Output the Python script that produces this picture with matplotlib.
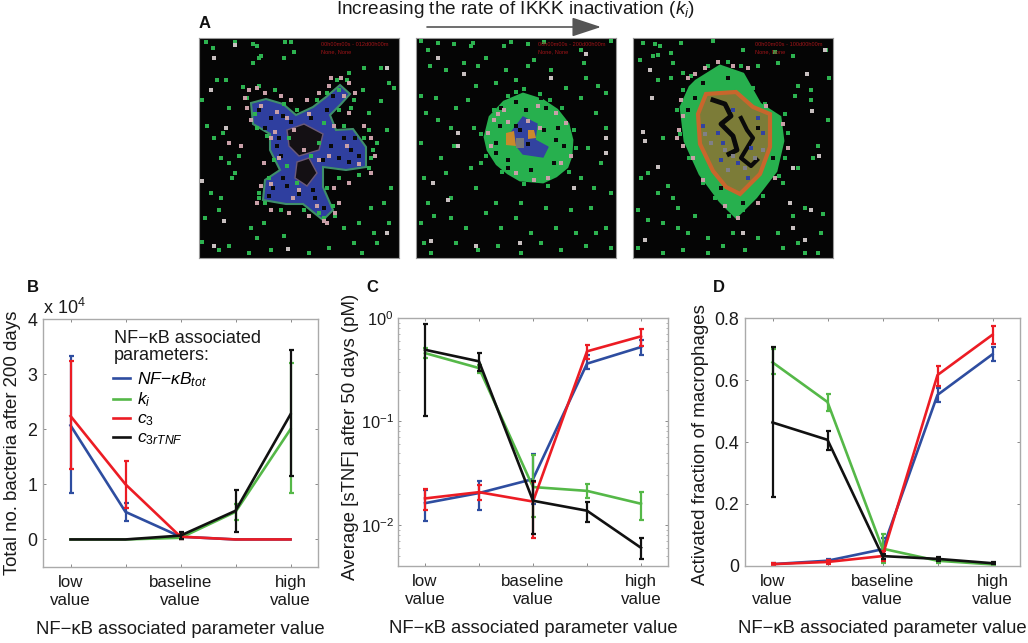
import matplotlib
matplotlib.use('Agg')
import matplotlib.pyplot as plt
from matplotlib.patches import Polygon, FancyArrowPatch
from matplotlib.lines import Line2D
from matplotlib.ticker import NullFormatter

plt.rcParams['font.family'] = ['Liberation Sans', 'DejaVu Sans']
plt.rcParams['mathtext.fontset'] = 'custom'
plt.rcParams['mathtext.rm'] = 'Liberation Sans'
plt.rcParams['mathtext.it'] = 'Liberation Sans:italic'

W, H = 1028, 643

x_pos = [1, 2, 3, 4, 5]
x_labels = ['low\nvalue', '', 'baseline\nvalue', '', 'high\nvalue']
series_colors = ['#2e4da0', '#55b848', '#ec1c24', '#111111']
legend_labels = [r'$NF\mathrm{-}\kappa B_{tot}$', r'$k_i$', r'$c_3$', r'$c_{3rTNF}$']

# panel B, x 10^4
b_blue = [2.07, 0.50, 0.05, 0.0, 0.0]
b_blue_lo = [0.85, 0.33, 0.0, 0.0, 0.0]
b_blue_hi = [3.33, 0.67, 0.10, 0.0, 0.0]
b_green = [0.0, 0.0, 0.03, 0.50, 2.00]
b_green_lo = [0.0, 0.0, 0.0, 0.35, 0.85]
b_green_hi = [0.0, 0.0, 0.08, 0.65, 3.20]
b_red = [2.24, 1.00, 0.05, 0.0, 0.0]
b_red_lo = [1.27, 0.57, 0.0, 0.0, 0.0]
b_red_hi = [3.24, 1.42, 0.10, 0.0, 0.0]
b_black = [0.0, 0.0, 0.07, 0.52, 2.27]
b_black_lo = [0.0, 0.0, 0.0, 0.14, 1.15]
b_black_hi = [0.0, 0.0, 0.14, 0.90, 3.43]

# panel C
c_blue = [0.0162, 0.0203, 0.0277, 0.362, 0.524]
c_blue_lo = [0.0110, 0.0138, 0.016, 0.32, 0.44]
c_blue_hi = [0.0215, 0.0263, 0.0486, 0.44, 0.617]
c_green = [0.458, 0.328, 0.0232, 0.0213, 0.0160]
c_green_lo = [0.41, 0.295, 0.012, 0.0181, 0.0112]
c_green_hi = [0.51, 0.355, 0.047, 0.0248, 0.0209]
c_red = [0.0180, 0.0207, 0.0168, 0.476, 0.665]
c_red_lo = [0.0138, 0.0172, 0.0075, 0.40, 0.54]
c_red_hi = [0.0223, 0.0243, 0.026, 0.544, 0.788]
c_black = [0.493, 0.381, 0.0171, 0.0137, 0.0060]
c_black_lo = [0.113, 0.305, 0.0082, 0.0106, 0.0047]
c_black_hi = [0.88, 0.458, 0.0263, 0.0166, 0.0074]

# panel D
d_blue = [0.006, 0.017, 0.054, 0.552, 0.683]
d_blue_lo = [0.003, 0.012, 0.02, 0.53, 0.66]
d_blue_hi = [0.009, 0.022, 0.09, 0.575, 0.705]
d_green = [0.657, 0.529, 0.056, 0.017, 0.005]
d_green_lo = [0.62, 0.50, 0.01, 0.010, 0.003]
d_green_hi = [0.70, 0.555, 0.103, 0.024, 0.007]
d_red = [0.006, 0.013, 0.032, 0.616, 0.746]
d_red_lo = [0.003, 0.008, 0.015, 0.58, 0.715]
d_red_hi = [0.009, 0.018, 0.05, 0.645, 0.775]
d_black = [0.463, 0.407, 0.032, 0.023, 0.009]
d_black_lo = [0.222, 0.375, 0.024, 0.016, 0.005]
d_black_hi = [0.705, 0.436, 0.04, 0.030, 0.013]

# panel A in pixels inside each 200x220 image
left_green = [(7, 4), (36, 4), (54, 6), (58, 8), (86, 4), (92, 4), (14, 10), (3, 62), (18, 42), (27, 42),
              (44, 49), (60, 20), (62, 18), (54, 25), (95, 14), (85, 20), (150, 35), (165, 30), (182, 30),
              (190, 45), (164, 52), (195, 50), (8, 88), (30, 70), (24, 95), (15, 100), (22, 120), (30, 125),
              (40, 118), (33, 140), (36, 135), (12, 155), (22, 160), (6, 180), (20, 172), (52, 190), (65, 185),
              (3, 204), (20, 212), (30, 208), (58, 200), (85, 198), (145, 190), (160, 185), (175, 195),
              (190, 185), (185, 165), (172, 170), (192, 150), (178, 105), (188, 92), (170, 75), (182, 63),
              (130, 210), (155, 205), (110, 215), (72, 212), (50, 215), (178, 205), (163, 215)]
left_grey = [(36, 7), (15, 20), (12, 52), (27, 90), (3, 143), (25, 183), (15, 208), (89, 211), (188, 195), (188, 30)]
left_blue = [(52, 65), (67, 61), (84, 66), (97, 77), (114, 69), (127, 59), (141, 47), (151, 56), (142, 66), (131, 77),
             (137, 92), (154, 91), (167, 109), (167, 129), (147, 132), (124, 129), (124, 149), (134, 172), (124, 182),
             (104, 166), (87, 166), (64, 162), (66, 142), (81, 132), (71, 112), (71, 96), (54, 86)]
left_holes = [[(88, 92), (105, 86), (124, 96), (120, 112), (100, 118), (90, 108)],
              [(98, 124), (110, 120), (118, 135), (108, 148), (96, 140)]]
left_speck = [(60, 72), (72, 80), (84, 78), (66, 90), (92, 84), (80, 100), (112, 80), (128, 72), (134, 58), (145, 100),
              (152, 112), (140, 120), (160, 118), (132, 108), (82, 118), (74, 150), (88, 148), (100, 156), (116, 160),
              (125, 170), (84, 140), (70, 158), (114, 152), (156, 100), (150, 124), (124, 122), (78, 108), (96, 70)]
left_pink = [(50, 52), (58, 50), (48, 70), (52, 82), (66, 55), (82, 58), (92, 62), (108, 62), (120, 55), (130, 48),
             (142, 40), (150, 45), (156, 55), (150, 75), (135, 88), (165, 88), (172, 100), (176, 118), (172, 135),
             (150, 145), (135, 150), (136, 175), (125, 183), (110, 178), (90, 175), (72, 172), (58, 165), (62, 148),
             (65, 125), (72, 100), (95, 92), (105, 112), (120, 122), (100, 152), (80, 120), (42, 108), (30, 105),
             (62, 68), (78, 74), (110, 76), (145, 58), (148, 108), (160, 126), (130, 118), (72, 146), (94, 160),
             (118, 168), (76, 94), (88, 80), (46, 60), (132, 40), (128, 185), (140, 165)]
left_fringe = [(48, 60), (60, 48), (76, 52), (85, 66), (98, 72), (118, 62), (128, 55), (148, 42), (155, 62), (140, 72),
               (125, 85), (145, 88), (170, 92), (174, 112), (170, 130), (160, 137), (140, 140), (128, 150), (134, 168),
               (125, 180), (105, 172), (82, 172), (66, 165), (60, 155), (70, 140), (75, 122), (68, 98), (58, 90),
               (90, 100), (112, 118), (98, 145), (88, 128), (120, 105), (136, 178), (138, 42), (152, 70), (60, 160),
               (172, 120), (165, 100), (140, 52), (56, 76), (120, 175)]

mid_green = [(5, 3), (12, 12), (22, 5), (38, 6), (55, 8), (57, 5), (95, 4), (88, 8), (112, 6), (128, 4), (165, 12), (195, 3),
             (14, 28), (30, 32), (48, 25), (62, 28), (70, 20), (90, 32), (112, 28), (118, 22), (135, 32), (168, 25),
             (170, 40), (182, 48), (5, 58), (20, 60), (40, 70), (52, 62), (60, 48), (80, 45), (100, 42), (150, 50),
             (165, 60), (190, 55), (180, 75), (190, 90), (10, 75), (22, 82), (35, 90), (58, 90), (5, 105), (25, 120),
             (38, 108), (55, 130), (8, 140), (30, 135), (65, 125), (172, 110), (185, 125), (165, 140), (178, 150),
             (195, 155), (12, 165), (35, 160), (60, 150), (80, 165), (105, 165), (130, 170), (155, 172), (175, 170),
             (190, 190), (5, 185), (18, 178), (35, 180), (50, 190), (70, 175), (85, 190), (100, 180), (115, 195),
             (140, 190), (160, 195), (8, 205), (15, 215), (40, 205), (62, 212), (82, 208), (105, 215), (125, 205),
             (145, 212), (170, 208), (195, 210), (180, 195)]
mid_grey = [(22, 20), (48, 36), (42, 95), (42, 108), (17, 145), (32, 162), (15, 203), (60, 208), (104, 205), (158, 150),
            (190, 100), (190, 115), (135, 40), (170, 16)]
mid_blob = [(74, 79), (88, 64), (107, 56), (126, 62), (141, 72), (152, 86), (156, 102), (155, 118), (151, 129), (140, 138),
            (127, 144), (104, 142), (92, 135), (81, 126), (72, 112), (69, 99)]
mid_blue = [(107, 79), (121, 86), (119, 102), (132, 109), (127, 119), (107, 116), (99, 106), (94, 96)]
mid_orange = [(90, 95), (98, 93), (100, 108), (90, 107), (112, 92), (118, 92), (120, 100), (112, 101)]
mid_grey_core = [(100, 100), (108, 100), (108, 110), (100, 110)]
mid_speck = [(85, 70), (100, 64), (130, 70), (142, 90), (148, 108), (138, 125), (115, 132), (92, 122), (80, 105), (84, 88),
             (140, 102), (128, 92), (92, 130), (125, 60), (110, 72), (80, 115), (100, 88), (112, 106), (104, 92)]
mid_pink = [(78, 82), (82, 76), (88, 72), (72, 95), (75, 108), (100, 135), (118, 142), (132, 140), (145, 125), (155, 118),
            (150, 85), (140, 75), (122, 68), (112, 83), (124, 90), (92, 84)]
mid_edge = [(78, 72), (92, 58), (108, 51), (124, 56), (146, 70), (158, 92), (160, 110), (153, 134), (132, 148), (108, 146),
            (86, 134), (70, 118), (65, 96), (100, 54), (134, 62)]

right_green = [(10, 5), (22, 6), (27, 8), (48, 5), (80, 3), (110, 12), (142, 14), (160, 18), (193, 12), (7, 22), (20, 18),
               (25, 17), (38, 15), (40, 25), (25, 42), (38, 40), (50, 35), (145, 25), (125, 28), (165, 48), (162, 58),
               (178, 52), (178, 62), (196, 40), (195, 82), (30, 100), (8, 140), (15, 135), (35, 148), (25, 155),
               (40, 160), (45, 170), (5, 172), (15, 182), (30, 185), (45, 190), (55, 195), (62, 178), (75, 200),
               (90, 208), (100, 195), (112, 212), (125, 200), (145, 195), (160, 178), (172, 170), (190, 176), (188, 195),
               (165, 205), (150, 210), (172, 215), (185, 215), (5, 210), (30, 215), (50, 212), (75, 215), (180, 120),
               (165, 130), (150, 145), (185, 108)]
right_grey = [(192, 12), (17, 32), (19, 60), (174, 36), (179, 73), (10, 94), (12, 103), (25, 129), (160, 130), (157, 165),
              (178, 172), (160, 190), (110, 195), (12, 202), (172, 202), (186, 118)]
right_blob = [(63, 43), (87, 28), (110, 36), (127, 66), (147, 79), (150, 103), (143, 133), (123, 159), (103, 179), (87, 163),
              (67, 136), (52, 103), (48, 69), (57, 49)]
right_olive = [(73, 56), (103, 54), (120, 69), (137, 76), (137, 109), (127, 136), (107, 156), (93, 149), (80, 133), (67, 106),
               (65, 76)]
right_black_x = [80, 92, 98, 88, 100, 104, 96]
right_black_y = [62, 66, 78, 86, 98, 112, 116]
right_black2_x = [108, 114, 120, 108, 118, 124]
right_black2_y = [80, 92, 100, 120, 128, 122]
right_grey_core = [(78, 105), (92, 112), (100, 118), (122, 120), (130, 112), (95, 132), (112, 130), (72, 96)]
right_blue = [(70, 88), (85, 95), (90, 105), (105, 125), (115, 140), (100, 72), (125, 80), (88, 122), (118, 110), (130, 95)]
right_pink = [(55, 40), (62, 36), (48, 62), (50, 78), (46, 92), (50, 108), (60, 120), (70, 142), (92, 168), (105, 180),
              (125, 165), (142, 140), (155, 110), (150, 86), (115, 30), (100, 28), (85, 24), (72, 30), (133, 68), (44, 100)]
right_black_pts = [(62, 60), (55, 72), (70, 45), (95, 40), (125, 90), (140, 120), (110, 165), (88, 150)]
right_edge = [(58, 38), (75, 28), (95, 24), (108, 28), (120, 50), (132, 66), (152, 76), (155, 95), (152, 120), (146, 138),
              (130, 158), (110, 172), (96, 178), (82, 160), (70, 145), (56, 120), (47, 96), (44, 72), (50, 52)]


def add_axes_px(left, top, right, bottom):
    return fig.add_axes([left / W, 1 - bottom / H, (right - left) / W, (bottom - top) / H])


def draw_image(ax, green, grey, tstr):
    ax.set_facecolor('#050505')
    ax.set_xlim(0, 200)
    ax.set_ylim(220, 0)
    ax.set_xticks([])
    ax.set_yticks([])
    for s in ax.spines.values():
        s.set_color('#999999')
        s.set_linewidth(0.8)
    ax.scatter(*zip(*green), s=6, marker='s', c='#2db350', lw=0, zorder=5)
    ax.scatter(*zip(*grey), s=6, marker='s', c='#c8c0c0', lw=0, zorder=5)
    ax.text(122, 6, tstr, color='#a01418', fontsize=4.1, va='center', zorder=6)
    ax.text(122, 14, 'None, None', color='#a01418', fontsize=4.1, va='center', zorder=6)


def draw_panel(ax, series, ylabel, label_x, label_y):
    for (y, lo, hi), col in zip(series, series_colors):
        ax.plot(x_pos, y, color=col, lw=1.9)
        # flat points have no visible bar in the original
        keep = [i for i in range(len(y)) if hi[i] > lo[i]]
        ax.errorbar([x_pos[i] for i in keep], [y[i] for i in keep],
                    yerr=[[y[i] - lo[i] for i in keep], [hi[i] - y[i] for i in keep]],
                    fmt='none', ecolor=col, elinewidth=1.6, capsize=1.8, capthick=1.6)
    ax.set_xlim(0.5, 5.5)
    ax.set_xticks(x_pos)
    ax.set_xticklabels(x_labels, linespacing=1.25)
    ax.tick_params(direction='in', length=2.5, width=0.6, color='#777777', top=True, right=True,
                   labelsize=12.8, pad=4, labelcolor='#1a1a1a')
    ax.tick_params(axis='x', labelsize=12.2, pad=6)
    for s in ax.spines.values():
        s.set_color('#aaaaaa')
        s.set_linewidth(1.0)
    ax.set_ylabel(ylabel, fontsize=13.4, color='#1a1a1a')
    ax.yaxis.set_label_coords(label_x, label_y)
    ax.set_xlabel('NF\u2212\u03baB associated parameter value', fontsize=13.3, color='#1a1a1a', labelpad=9)


fig = plt.figure(figsize=(W / 100, H / 100), dpi=100)

# panel A
ax1 = add_axes_px(199, 38, 399, 258)
draw_image(ax1, left_green, left_grey, '00h00m00s - 012d00h00m')
ax1.add_patch(Polygon(left_blue, fc='#2f3f9f', ec='#3f8f6a', lw=1.5, zorder=2))
for poly in left_holes:
    ax1.add_patch(Polygon(poly, fc='#141014', ec='#6c5a78', lw=1, zorder=3))
ax1.scatter(*zip(*left_speck), s=6, marker='s', c='#0a0a0a', lw=0, zorder=4)
ax1.scatter(*zip(*left_fringe), s=8, marker='s', c='#2db350', lw=0, zorder=4)
ax1.scatter(*zip(*left_pink), s=6, marker='s', c='#c9a0a8', lw=0, zorder=4)

ax2 = add_axes_px(416, 38, 616, 258)
draw_image(ax2, mid_green, mid_grey, '00h00m00s - 200d00h00m')
ax2.add_patch(Polygon(mid_blob, fc='#27b04e', ec='#27b04e', lw=2, zorder=2))
ax2.add_patch(Polygon(mid_blue, fc='#3243a0', ec='#3243a0', lw=1, zorder=3))
ax2.add_patch(Polygon(mid_orange[:4], fc='#c98a2c', ec='none', zorder=3))
ax2.add_patch(Polygon(mid_orange[4:], fc='#c98a2c', ec='none', zorder=3))
ax2.add_patch(Polygon(mid_grey_core, fc='#77777a', ec='none', zorder=3))
ax2.scatter(*zip(*mid_edge), s=8, marker='s', c='#27b04e', lw=0, zorder=3)
ax2.scatter(*zip(*mid_speck), s=5, marker='s', c='#0a0a0a', lw=0, zorder=4)
ax2.scatter(*zip(*mid_pink), s=5, marker='s', c='#c9a0a8', lw=0, zorder=4)

ax3 = add_axes_px(633, 38, 833, 258)
draw_image(ax3, right_green, right_grey, '00h00m00s - 100d00h00m')
ax3.add_patch(Polygon(right_blob, fc='#27b04e', ec='#27b04e', lw=2, zorder=2))
ax3.add_patch(Polygon(right_olive, fc='#7c7c38', ec='#c8662c', lw=3, zorder=3))
ax3.plot(right_black_x, right_black_y, color='#0a0a0a', lw=3.5, zorder=4)
ax3.plot(right_black2_x, right_black2_y, color='#0a0a0a', lw=3, zorder=4)
ax3.scatter(*zip(*right_edge), s=8, marker='s', c='#27b04e', lw=0, zorder=3)
ax3.scatter(*zip(*right_grey_core), s=10, marker='s', c='#808088', lw=0, zorder=4)
ax3.scatter(*zip(*right_blue), s=6, marker='s', c='#3243a0', lw=0, zorder=5)
ax3.scatter(*zip(*right_pink), s=5, marker='s', c='#c9a0a8', lw=0, zorder=5)
ax3.scatter(*zip(*right_black_pts), s=5, marker='s', c='#0a0a0a', lw=0, zorder=5)

fig.text(516 / W, 1 - 9 / H, r'Increasing the rate of IKKK inactivation ($k_i$)', fontsize=13.7, ha='center', va='center',
         color='#1a1a1a')
fig.add_artist(FancyArrowPatch((427 / W, 1 - 27 / H), (601 / W, 1 - 27 / H), transform=fig.transFigure,
                               arrowstyle='-|>,head_length=8.2,head_width=2.7', mutation_scale=2.2,
                               color='#555555', lw=1.2, shrinkA=0, shrinkB=0))

# panel B
ax_b = add_axes_px(43, 319, 318, 567)
draw_panel(ax_b, [(b_blue, b_blue_lo, b_blue_hi), (b_green, b_green_lo, b_green_hi),
                  (b_red, b_red_lo, b_red_hi), (b_black, b_black_lo, b_black_hi)],
           'Total no. bacteria after 200 days', (21 - 43) / 275, 0.5)
ax_b.set_ylim(-0.5, 4)
ax_b.set_yticks([0, 1, 2, 3, 4])
handles = [Line2D([], [], color=c, lw=1.9) for c in series_colors]
fig.text(114 / W, 1 - 347 / H, 'NF\u2212\u03baB associated\nparameters:', fontsize=13, va='center', ha='left',
         color='#1a1a1a', linespacing=1.05)
ax_b.legend(handles, legend_labels, frameon=False, fontsize=12.6, loc='upper left', bbox_to_anchor=(0.2545, 0.795),
            borderaxespad=0, borderpad=0, handlelength=1.0, handletextpad=0.4, labelspacing=0.12)
fig.text(43 / W, 1 - 308 / H, 'x 10$^4$', fontsize=13, va='center', color='#1a1a1a')

# panel C
ax_c = add_axes_px(398, 318, 668, 566)
draw_panel(ax_c, [(c_blue, c_blue_lo, c_blue_hi), (c_green, c_green_lo, c_green_hi),
                  (c_red, c_red_lo, c_red_hi), (c_black, c_black_lo, c_black_hi)],
           'Average [sTNF] after 50 days (pM)', (359 - 398) / 270, (566 - 437) / 248)
ax_c.set_yscale('log')
ax_c.set_ylim(0.004, 1)
ax_c.yaxis.set_minor_formatter(NullFormatter())
ax_c.tick_params(axis='y', which='major', labelsize=11.8, pad=3)
ax_c.tick_params(which='minor', direction='in', length=1.5, width=0.5, color='#999999', right=True)

# panel D
ax_d = add_axes_px(745, 318, 1020, 566)
draw_panel(ax_d, [(d_blue, d_blue_lo, d_blue_hi), (d_green, d_green_lo, d_green_hi),
                  (d_red, d_red_lo, d_red_hi), (d_black, d_black_lo, d_black_hi)],
           'Activated fraction of macrophages', (709 - 745) / 275, (566 - 445) / 248)
ax_d.set_ylim(0, 0.8)
ax_d.set_yticks([0, 0.2, 0.4, 0.6, 0.8])
ax_d.set_yticklabels(['0', '0.2', '0.4', '0.6', '0.8'])

for letter, px, py in [('A', 205, 24), ('B', 33, 287), ('C', 372, 287), ('D', 719, 287)]:
    fig.text(px / W, 1 - py / H, letter, fontsize=12, fontweight='bold', ha='center', va='center', color='#111111')

fig.savefig('out.png', dpi=100)
